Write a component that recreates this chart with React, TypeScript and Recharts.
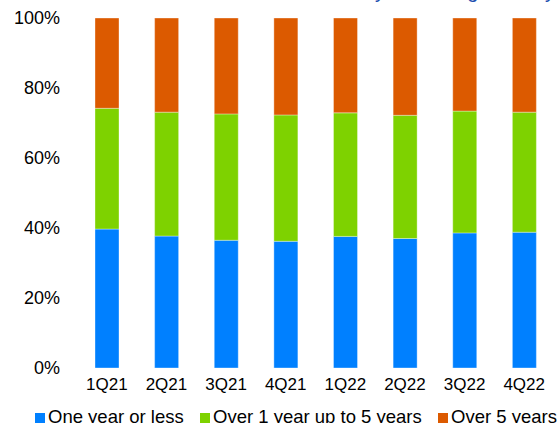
import { BarChart, Bar, XAxis, YAxis } from 'recharts';

const quarters = ['1Q21', '2Q21', '3Q21', '4Q21', '1Q22', '2Q22', '3Q22', '4Q22'];
const oneYearOrLess = [39.7, 37.7, 36.5, 36.2, 37.6, 37.0, 38.6, 38.8];
const oneToFiveYears = [34.5, 35.4, 36.1, 36.1, 35.3, 35.2, 34.8, 34.3];
const overFiveYears = [25.8, 26.9, 27.4, 27.7, 27.1, 27.8, 26.6, 26.9];
const yTicks = [0, 20, 40, 60, 80, 100];

const series = [
  { key: 'short', name: 'One year or less', color: '#0080FF', values: oneYearOrLess },
  { key: 'mid', name: 'Over 1 year up to 5 years', color: '#7ED200', values: oneToFiveYears },
  { key: 'long', name: 'Over 5 years', color: '#DC5A00', values: overFiveYears },
];

const data = quarters.map((q, i) => ({
  quarter: q,
  short: oneYearOrLess[i],
  mid: oneToFiveYears[i],
  long: overFiveYears[i],
}));

const font = 'Arial, "Liberation Sans", sans-serif';
const legendX = [35, 200, 438];

export default function App() {
  return (
    <div style={{ position: 'absolute', left: 0, top: 0, width: 557, height: 423, overflow: 'hidden', fontFamily: font }}>
      {/* title is cropped off in the source image, only its descenders show */}
      <div
        style={{
          position: 'absolute',
          right: 2,
          top: -19,
          fontSize: 20,
          lineHeight: '20px',
          color: '#1F4FB0',
          whiteSpace: 'nowrap',
        }}
      >
        Total loans and securities by remaining maturity
      </div>
      <BarChart width={557} height={423} data={data} margin={{ top: 18, right: 3, left: 0, bottom: 25 }}>
        <XAxis
          dataKey="quarter"
          axisLine={false}
          tickLine={false}
          tickSize={0}
          tickMargin={10}
          height={30}
          interval={0}
          tick={{ fill: '#000', fontSize: 17, fontFamily: font }}
        />
        <YAxis
          width={77}
          domain={[0, 100]}
          ticks={yTicks}
          axisLine={false}
          tickLine={false}
          tickSize={0}
          tickMargin={17}
          tickFormatter={(v: number) => `${v}%`}
          tick={{ fill: '#000', fontSize: 18, fontFamily: font }}
        />
        {series.map((s) => (
          <Bar
            key={s.key}
            dataKey={s.key}
            name={s.name}
            stackId="a"
            fill={s.color}
            stroke="#ffffff"
            strokeOpacity={0.35}
            strokeWidth={1}
            barSize={24}
            isAnimationActive={false}
          />
        ))}
      </BarChart>
      {series.map((s, i) => (
        <div
          key={s.key}
          style={{
            position: 'absolute',
            left: legendX[i],
            top: 408,
            display: 'flex',
            alignItems: 'flex-end',
            whiteSpace: 'nowrap',
            fontSize: 18.5,
            lineHeight: '18px',
            color: '#000',
          }}
        >
          <span style={{ display: 'inline-block', width: 10, height: 10, background: s.color, marginRight: 3, marginBottom: 3 }} />
          <span>{s.name}</span>
        </div>
      ))}
    </div>
  );
}
